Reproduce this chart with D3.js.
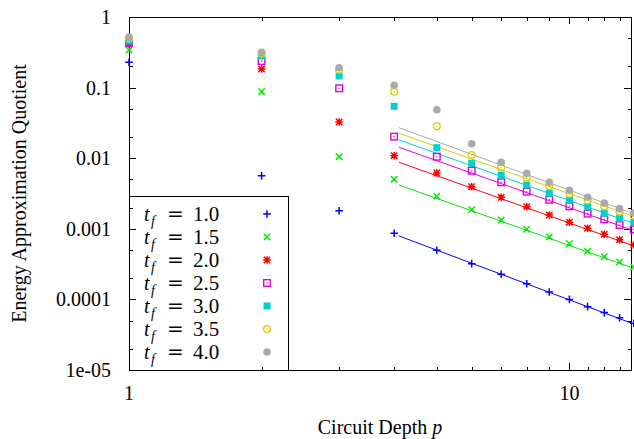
<!DOCTYPE html>
<html><head><meta charset="utf-8">
<script src="https://cdn.jsdelivr.net/npm/d3@7"></script>
<style>html,body{margin:0;padding:0;background:#fff;}svg{display:block;}</style>
</head><body>
<svg id="chart" width="634" height="439"></svg>
<script>
// ---- data ----
const depths = [1,2,3,4,5,6,7,8,9,10,11,12,13,14];
const tfLabels = ["1.0","1.5","2.0","2.5","3.0","3.5","4.0"];
const q10 = [0.228,0.00565,0.0018,0.000863,0.000496,0.000321,0.000227,0.000167,0.000127,0.0001,7.9e-5,6.5e-5,5.5e-5,4.6e-5];
const q15 = [0.341,0.0875,0.0105,0.00502,0.00289,0.00187,0.00133,0.000984,0.000766,0.000615,0.00048,0.000403,0.000339,0.000288];
const q20 = [0.415,0.1834,0.0326,0.01085,0.00617,0.00395,0.00279,0.00206,0.00157,0.00124,0.00102,0.000836,0.000701,0.00059];
const q25 = [0.428,0.238,0.0977,0.0202,0.0105,0.00665,0.00456,0.00336,0.00258,0.00208,0.00164,0.00136,0.00113,0.00098];
const q30 = [0.457,0.2805,0.146,0.0543,0.0141,0.00847,0.00573,0.00417,0.00318,0.00253,0.00204,0.00166,0.00141,0.00123];
const q35 = [0.5,0.306,0.1775,0.0875,0.0283,0.0111,0.00733,0.0053,0.004,0.00314,0.00253,0.00208,0.00175,0.00154];
const q40 = [0.52,0.316,0.191,0.1078,0.0486,0.016,0.00875,0.00611,0.00456,0.00351,0.00279,0.00232,0.00193,0.00167];
// power-law fits  y = C * p^B  (for p >= 4)
const fitC = [0.0215,0.0946,0.202,0.326,0.416,0.512,0.682];
const fitB = [-2.339,-2.212,-2.223,-2.216,-2.219,-2.212,-2.286];
const fitRange = [4.1, 13.8];
const xTickVals = [1,10];
const xTickLabels = ["1","10"];
const yTickVals = [1,0.1,0.01,0.001,0.0001,0.00001];
const yTickLabels = ["1","0.1","0.01","0.001","0.0001","1e-05"];
const xTitle = "Circuit Depth ";
const yTitle = "Energy Approximation Quotient";

// ---- styles ----
const seriesVals = [q10,q15,q20,q25,q30,q35,q40];
const colors = ["#0000ff","#00e800","#ff0000","#e000e0","#00d0d0","#d8d000","#aaaaaa"];
const markers = ["plus","cross","star","boxdot","fbox","circdot","fcirc"];

const L=129, R=631, T=17, B=370;
const x = d3.scaleLog().domain([1,13.8]).range([L,R]);
const y = d3.scaleLog().domain([1e-5,1]).range([B,T]);
const svg = d3.select("#chart");
const font = "'Liberation Serif','Times New Roman',serif";

// minor ticks
const xMinor = [];
for (let k=2;k<=13;k++) if (k!==10) xMinor.push(k);
const yMinor = [];
for (let e=-5;e<0;e++) [2,5].forEach(m=>yMinor.push(m*Math.pow(10,e)));

const ax = svg.append("g").attr("stroke","#000").attr("stroke-width",1).attr("shape-rendering","crispEdges");
xMinor.forEach(v=>{ const px=Math.round(x(v))+0.5;
  ax.append("line").attr("x1",px).attr("x2",px).attr("y1",B).attr("y2",B-3.5);
  ax.append("line").attr("x1",px).attr("x2",px).attr("y1",T).attr("y2",T+3.5);});
xTickVals.forEach(v=>{ const px=Math.round(x(v))+0.5;
  ax.append("line").attr("x1",px).attr("x2",px).attr("y1",B).attr("y2",B-7);
  ax.append("line").attr("x1",px).attr("x2",px).attr("y1",T).attr("y2",T+7);});
yMinor.forEach(v=>{ const py=Math.round(y(v))+0.5;
  ax.append("line").attr("x1",L).attr("x2",L+3.5).attr("y1",py).attr("y2",py);
  ax.append("line").attr("x1",R).attr("x2",R-3.5).attr("y1",py).attr("y2",py);});
yTickVals.forEach(v=>{ const py=Math.round(y(v))+0.5;
  ax.append("line").attr("x1",L).attr("x2",L+7).attr("y1",py).attr("y2",py);
  ax.append("line").attr("x1",R).attr("x2",R-7).attr("y1",py).attr("y2",py);});
ax.append("rect").attr("x",L+0.5).attr("y",T+0.5).attr("width",R-L).attr("height",B-T).attr("fill","none");

// tick labels
const tl = svg.append("g").attr("font-family",font).attr("font-size",20).attr("fill","#000");
yTickVals.forEach((v,i)=>{
  tl.append("text").attr("x",L-18).attr("y",y(v)).attr("dy","0.35em").attr("text-anchor","end").text(yTickLabels[i]);
});
xTickVals.forEach((v,i)=>{
  tl.append("text").attr("x",x(v)).attr("y",B+23).attr("dy","0.35em").attr("text-anchor","middle").text(xTickLabels[i]);
});
// axis titles
const xt = tl.append("text").attr("x",(L+R)/2).attr("y",B+57).attr("dy","0.35em").attr("text-anchor","middle");
xt.append("tspan").text(xTitle);
xt.append("tspan").attr("font-style","italic").text("p");
tl.append("text").attr("transform",`translate(19,${(T+B)/2}) rotate(-90)`).attr("dy","0.35em").attr("text-anchor","middle").text(yTitle);

// marker drawing
function drawMarker(g, type, cx, cy, col){
  const s=3.8;
  if (type==="plus"){
    g.append("path").attr("d",`M${cx-s},${cy}H${cx+s}M${cx},${cy-s}V${cy+s}`).attr("stroke",col).attr("stroke-width",1.5).attr("fill","none");
  } else if (type==="cross"){
    const t=3.2;
    g.append("path").attr("d",`M${cx-t},${cy-t}L${cx+t},${cy+t}M${cx-t},${cy+t}L${cx+t},${cy-t}`).attr("stroke",col).attr("stroke-width",1.5).attr("fill","none");
  } else if (type==="star"){
    const t=3.2;
    g.append("path").attr("d",`M${cx-s},${cy}H${cx+s}M${cx},${cy-s}V${cy+s}M${cx-t},${cy-t}L${cx+t},${cy+t}M${cx-t},${cy+t}L${cx+t},${cy-t}`).attr("stroke",col).attr("stroke-width",1.5).attr("fill","none");
  } else if (type==="boxdot"){
    g.append("rect").attr("x",cx-3.3).attr("y",cy-3.3).attr("width",6.6).attr("height",6.6).attr("stroke",col).attr("stroke-width",1.4).attr("fill","none");
    g.append("rect").attr("x",cx-0.6).attr("y",cy-0.6).attr("width",1.2).attr("height",1.2).attr("fill",col);
  } else if (type==="fbox"){
    g.append("rect").attr("x",cx-3.5).attr("y",cy-3.5).attr("width",7).attr("height",7).attr("fill",col);
  } else if (type==="circdot"){
    g.append("circle").attr("cx",cx).attr("cy",cy).attr("r",3.4).attr("stroke",col).attr("stroke-width",1.4).attr("fill","none");
    g.append("circle").attr("cx",cx).attr("cy",cy).attr("r",0.7).attr("fill",col);
  } else {
    g.append("circle").attr("cx",cx).attr("cy",cy).attr("r",3.8).attr("fill",col);
  }
}

// fit lines
const line = d3.line().x(d=>x(d[0])).y(d=>y(d[1]));
seriesVals.forEach((vals,i)=>{
  const pts = fitRange.map(p=>[p, fitC[i]*Math.pow(p,fitB[i])]);
  svg.append("path").attr("d",line(pts)).attr("stroke",colors[i]).attr("stroke-width",1).attr("fill","none");
});
// points
seriesVals.forEach((vals,i)=>{
  const g = svg.append("g");
  vals.forEach((v,j)=>drawMarker(g, markers[i], x(depths[j]), y(v), colors[i]));
});

// legend
const lg = svg.append("g");
lg.append("rect").attr("x",L+0.5).attr("y",196.5).attr("width",159).attr("height",B-196).attr("fill","none").attr("stroke","#000").attr("stroke-width",1).attr("shape-rendering","crispEdges");
tfLabels.forEach((lab,i)=>{
  const cy = 214 + i*23;
  const t = lg.append("text").attr("font-family",font).attr("font-size",20).attr("y",cy).attr("dy","0.35em");
  t.append("tspan").attr("x",144).attr("font-style","italic").text("t");
  t.append("tspan").attr("x",151).attr("dy",5).attr("font-size",14).attr("font-style","italic").text("f");
  t.append("tspan").attr("x",167).attr("dy",-5).attr("font-family","'DejaVu Serif',serif").text("=");
  t.append("tspan").attr("x",193).attr("font-size",21).text(lab);
  drawMarker(lg, markers[i], 267, cy, colors[i]);
});
</script>
</body></html>
